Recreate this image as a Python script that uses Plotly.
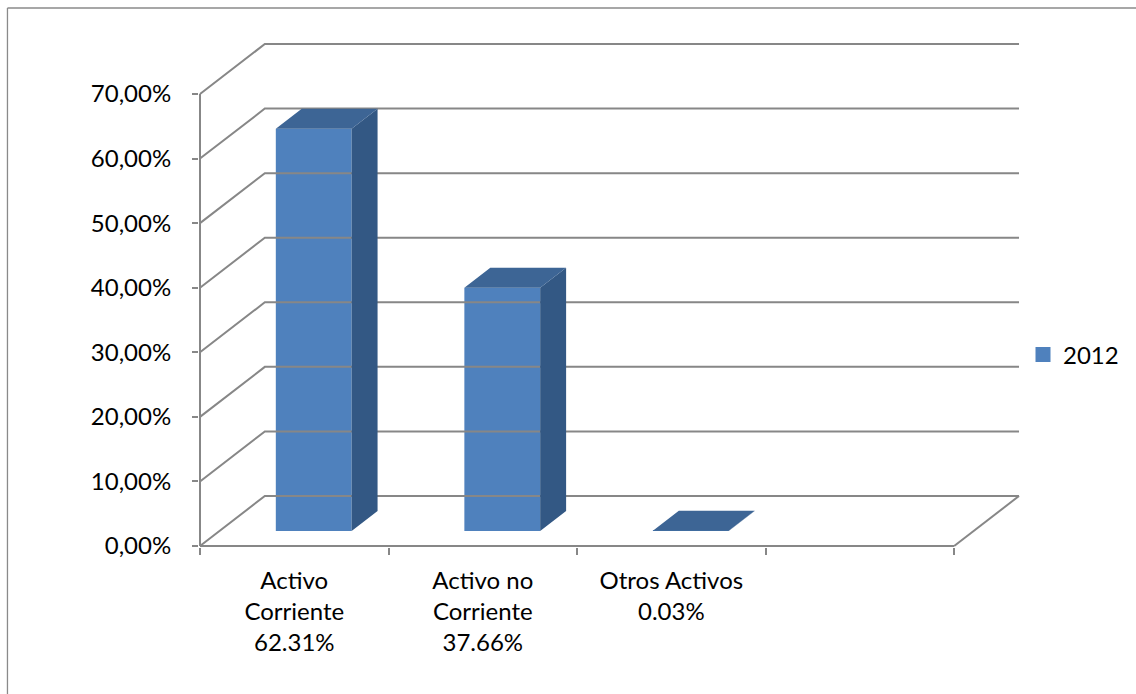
import plotly.graph_objects as go

# ---- data -------------------------------------------------------------
categories = ["Activo Corriente", "Activo no Corriente", "Otros Activos"]
label_lines = ["Activo<br>Corriente", "Activo no<br>Corriente", "Otros Activos"]
values = [62.31, 37.66, 0.03]          # percent of total assets
series_name = "2012"
y_ticks = [0, 10, 20, 30, 40, 50, 60, 70]
n_slots = 4                            # floor is laid out for four category slots

# ---- geometry (pixels) -------------------------------------------------
W, H = 1136, 694
SX = 189.0           # px per category slot
SY = 6.457           # px per percentage point
X0_PX, Y0_PX = 200, 546   # front-plane origin
PL, PR, PT, PB = 199, 1028, 40, 547  # plot area edges

DX = 65 / SX         # depth offset of the back wall, in category units
DY = 50 / SY         # depth offset of the back wall, in percent
F0, F1 = 0.3, 0.7    # bars occupy this slice of the depth
BAR_W = 76 / SX

x_range = [(PL - X0_PX) / SX, (PR - X0_PX) / SX]
y_range = [(Y0_PX - PB) / SY, (Y0_PX - PT) / SY]

GRID = "#878787"
FRONT = "#4F81BD"
SIDE = "#335884"
TOP = "#3D6595"
FONT = "Lato"

fig = go.Figure()

# walls: gridlines on the back wall with their diagonals on the side wall
gx, gy = [], []
for t in y_ticks:
    gx += [0, DX, n_slots + DX, None]
    gy += [t, t + DY, t + DY, None]
# right edge of the floor, front floor edge and front value axis
gx += [n_slots, n_slots + DX, None, 0, n_slots, None, 0, 0]
gy += [0, DY, None, 0, 0, None, 0, y_ticks[-1]]
fig.add_trace(go.Scatter(x=gx, y=gy, mode="lines", line=dict(color=GRID, width=2),
                         showlegend=False, hoverinfo="skip"))

# bar fronts
centers = [i + 0.5 + F0 * DX for i in range(len(values))]
fig.add_trace(go.Bar(x=centers, y=values, base=[F0 * DY] * len(values), width=BAR_W,
                     marker=dict(color=FRONT, line=dict(width=0)), name=series_name,
                     showlegend=False, hoverinfo="skip"))

# bar tops and right-hand sides
ddx, ddy = (F1 - F0) * DX, (F1 - F0) * DY
tx, ty, sx, sy = [], [], [], []
for c, v in zip(centers, values):
    xl, xr = c - BAR_W / 2, c + BAR_W / 2
    b = F0 * DY
    top = b + v
    tx += [xl, xr, xr + ddx, xl + ddx, xl, None]
    ty += [top, top, top + ddy, top + ddy, top, None]
    sx += [xr, xr, xr + ddx, xr + ddx, xr, None]
    sy += [b, top, top + ddy, b + ddy, b, None]
fig.add_trace(go.Scatter(x=sx, y=sy, mode="lines", fill="toself", fillcolor=SIDE,
                         line=dict(width=0, color=SIDE), showlegend=False, hoverinfo="skip"))
fig.add_trace(go.Scatter(x=tx, y=ty, mode="lines", fill="toself", fillcolor=TOP,
                         line=dict(width=0, color=TOP), showlegend=False, hoverinfo="skip"))

# legend key for the series
fig.add_trace(go.Scatter(x=[None], y=[None], mode="markers", name=series_name,
                         marker=dict(symbol="square", size=15, color=FRONT),
                         showlegend=True, hoverinfo="skip"))

tick_text = [f"{lab}<br>{v:.2f}%" for lab, v in zip(label_lines, values)]
y_text = [f"{t:.2f}".replace(".", ",") + "%" for t in y_ticks]

fig.update_layout(
    width=W, height=H, autosize=False,
    margin=dict(l=PL, r=W - PR, t=PT, b=H - PB, pad=0),
    paper_bgcolor="white", plot_bgcolor="white",
    font=dict(family=FONT, size=24, color="#000000"),
    xaxis=dict(range=x_range, showgrid=False, zeroline=False, showline=False,
               tickmode="array", tickvals=[i + 0.5 for i in range(len(values))],
               ticktext=tick_text, ticks="", ticklabelstandoff=17,
               minor=dict(tickmode="array", tickvals=list(range(n_slots + 1)),
                          ticks="outside", ticklen=7, tickwidth=2, tickcolor=GRID)),
    yaxis=dict(range=y_range, showgrid=False, zeroline=False, showline=False,
               tickmode="array", tickvals=y_ticks, ticktext=y_text,
               ticks="outside", ticklen=6, tickwidth=2, tickcolor=GRID,
               ticklabelstandoff=16),
    legend=dict(x=(1025 - PL) / (PR - PL), xanchor="left",
                y=(PB - 355) / (PB - PT), yanchor="middle",
                font=dict(family=FONT, size=24), bgcolor="rgba(0,0,0,0)"),
    shapes=[
        dict(type="line", xref="paper", yref="paper",
             x0=(7 - PL) / (PR - PL), x1=(7 - PL) / (PR - PL),
             y0=(PB - 8) / (PB - PT), y1=(PB - 720) / (PB - PT),
             line=dict(color="#8a8a8a", width=1.3)),
        dict(type="line", xref="paper", yref="paper",
             x0=(7 - PL) / (PR - PL), x1=(1160 - PL) / (PR - PL),
             y0=(PB - 8) / (PB - PT), y1=(PB - 8) / (PB - PT),
             line=dict(color="#8a8a8a", width=1.3)),
    ],
)

fig.write_html("out.html")
